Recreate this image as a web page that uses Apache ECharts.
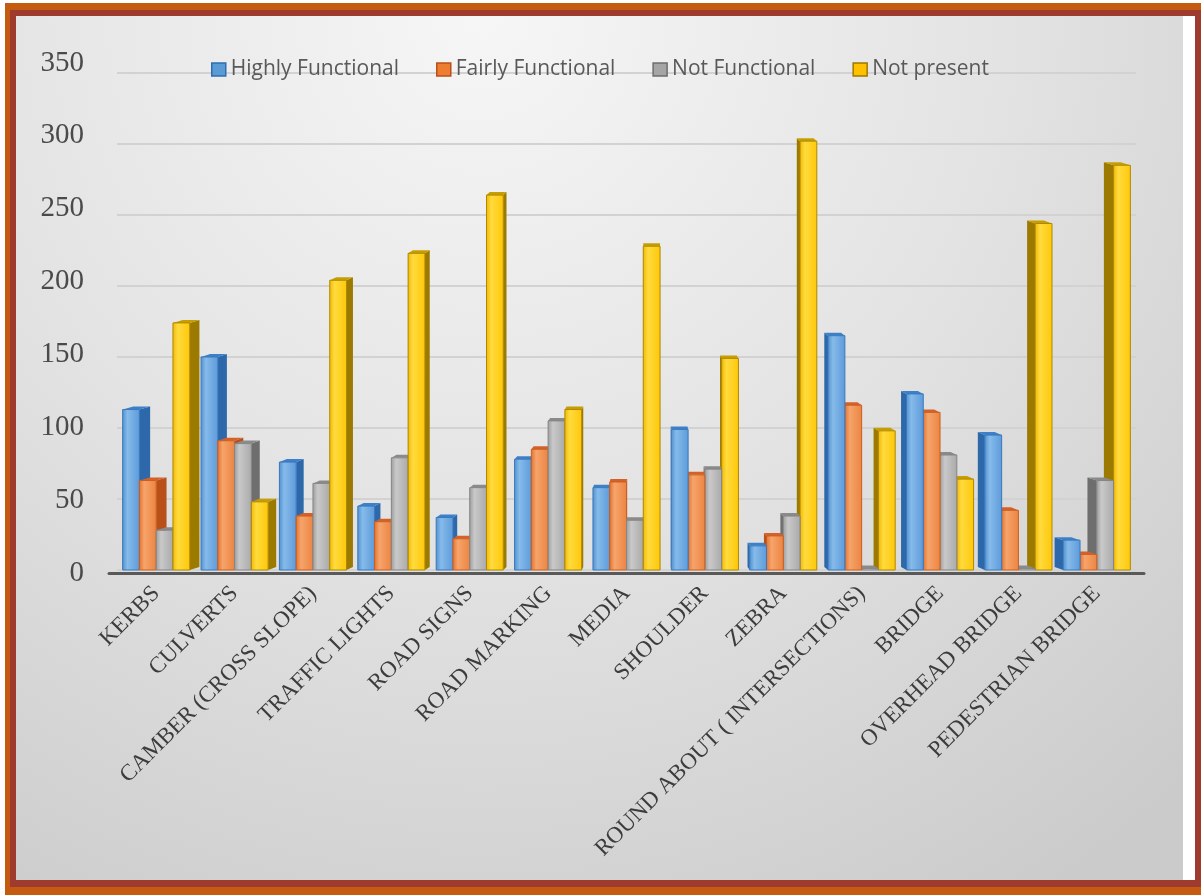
<!DOCTYPE html>
<html>
<head>
<meta charset="utf-8">
<script src="https://cdn.jsdelivr.net/npm/echarts@6/dist/echarts.min.js"></script>
<style>
html,body{margin:0;padding:0;background:#ffffff;}
#chart{width:1201px;height:895px;}
</style>
</head>
<body>
<div id="chart"></div>
<script>
const categories = ['KERBS','CULVERTS','CAMBER (CROSS SLOPE)','TRAFFIC LIGHTS','ROAD SIGNS','ROAD MARKING','MEDIA','SHOULDER','ZEBRA','ROUND ABOUT ( INTERSECTIONS)','BRIDGE','OVERHEAD BRIDGE','PEDESTRIAN BRIDGE'];
const seriesNames = ['Highly Functional','Fairly Functional','Not Functional','Not present'];
const highlyFunctional = [113,150,76,45,37,78,58,99,17,165,124,95,21];
const fairlyFunctional = [63,91,38,34,22,85,62,67,24,116,111,42,11];
const notFunctional    = [28,89,61,79,58,105,35,71,38,1,81,1,63];
const notPresent       = [174,48,204,223,264,113,228,149,302,98,64,244,285];
const yTicks = [0,50,100,150,200,250,300,350];

const palettes = [
  {front:['#4F8FD0','#86BBEA','#5C9ADA'], side:'#2D68AA', top:'#3B80C8', stroke:'#3A78BA', legend:'#5B9BD5', legendBorder:'#2E6DB0'},
  {front:['#E2702A','#F6A46C','#EC8440'], side:'#B9501A', top:'#D56128', stroke:'#C95E20', legend:'#ED7D31', legendBorder:'#B9501A'},
  {front:['#9C9C9C','#C9C9C9','#A9A9A9'], side:'#6E6E6E', top:'#8A8A8A', stroke:'#858585', legend:'#A5A5A5', legendBorder:'#6E6E6E'},
  {front:['#F2B600','#FFDB3E','#FFC707'], side:'#9C7A00', top:'#C79E00', stroke:'#AE8800', legend:'#FFC000', legendBorder:'#9C7A00'}
];
const allValues = [highlyFunctional, fairlyFunctional, notFunctional, notPresent];

const VX = 651, K = 0.0206, DY = -3;

function makeRender(si) {
  const p = palettes[si];
  return function (params, api) {
    const ci = api.value(0);
    const v = api.value(1);
    const base = api.coord([ci, 0]);
    const topPt = api.coord([ci, v]);
    const band = api.size([1, 0])[0];
    const fw = band * 0.214;
    const groupW = fw * 4;
    const x0 = base[0] - groupW / 2 + si * fw;
    const x1 = x0 + fw;
    const yb = base[1];
    const yt = topPt[1];
    const xc = (x0 + x1) / 2;
    const dx = K * (VX - xc);
    const z2 = -Math.abs(xc - VX);
    const edge = dx >= 0 ? x1 : x0;
    return {type: 'group', children: [
      {
        type: 'polygon',
        shape: {points: [[edge, yt], [edge + dx, yt + DY], [edge + dx, yb + DY], [edge, yb]]},
        style: {fill: p.side},
        z2: z2
      },
      {
        type: 'polygon',
        shape: {points: [[x0, yt], [x0 + dx, yt + DY], [x1 + dx, yt + DY], [x1, yt]]},
        style: {fill: p.top},
        z2: z2
      },
      {
        type: 'rect',
        shape: {x: x0, y: yt, width: fw, height: yb - yt},
        style: {
          fill: new echarts.graphic.LinearGradient(0, 0, 1, 0, [
            {offset: 0, color: p.front[0]},
            {offset: 0.3, color: p.front[1]},
            {offset: 1, color: p.front[2]}
          ]),
          stroke: p.stroke,
          lineWidth: 1
        },
        z2: z2 + 0.5
      }
    ]};
  };
}

const series = allValues.map((vals, si) => ({
  name: seriesNames[si],
  type: 'custom',
  xAxisIndex: 0,
  yAxisIndex: 0,
  renderItem: makeRender(si),
  itemStyle: {color: palettes[si].legend},
  encode: {x: 0, y: 1},
  data: vals.map((v, i) => [i, v])
}));

const chart = echarts.init(document.getElementById('chart'), null, {renderer: 'canvas'});
chart.setOption({
  animation: false,
  backgroundColor: '#ffffff',
  graphic: [
    {type: 'rect', z: -10, shape: {x: 5, y: 3, width: 1196, height: 892}, style: {fill: '#C55A11'}},
    {type: 'rect', z: -10, shape: {x: 10, y: 10, width: 1191, height: 877}, style: {fill: '#9E3A2E'}},
    {type: 'rect', z: -10, shape: {x: 16, y: 16, width: 1179, height: 864}, style: {fill: '#ffffff'}},
    {type: 'rect', z: -10, shape: {x: 16, y: 16, width: 1167, height: 864},
      style: {fill: new echarts.graphic.RadialGradient(0.4, 0.0, 1.2, [
        {offset: 0, color: '#f6f6f6'},
        {offset: 0.5, color: '#e3e3e3'},
        {offset: 1, color: '#cbcbcb'}
      ])}}
  ],
  legend: {
    left: 206,
    top: 54,
    icon: 'rect',
    itemWidth: 14,
    itemHeight: 13,
    itemGap: 37,
    textStyle: {fontFamily: 'Open Sans', fontSize: 21, color: '#595959'},
    data: seriesNames.map((n, i) => ({name: n, itemStyle: {color: palettes[i].legend, borderColor: palettes[i].legendBorder, borderWidth: 1.5}}))
  },
  grid: [
    {left: 117, right: 65, top: 73, bottom: 325, containLabel: false},
    {left: 109, right: 57, top: 63, bottom: 322, containLabel: false}
  ],
  xAxis: [
    {
      type: 'category', gridIndex: 0, data: categories,
      axisLine: {show: false}, axisTick: {show: false},
      axisLabel: {rotate: 45, interval: 0, margin: 20, fontFamily: 'Liberation Serif', fontSize: 23, color: '#3c3c3c'}
    },
    {
      type: 'value', gridIndex: 1, min: 0, max: 1,
      axisLine: {show: true, onZero: false, lineStyle: {color: '#595959', width: 3}},
      axisTick: {show: false}, axisLabel: {show: false}, splitLine: {show: false}
    }
  ],
  yAxis: [
    {
      type: 'value', gridIndex: 0, min: 0, max: 350, interval: 50,
      axisLine: {show: false}, axisTick: {show: false}, axisLabel: {show: false},
      splitLine: {show: true, lineStyle: {color: '#d2d2d2', width: 2}}
    },
    {
      type: 'value', gridIndex: 1, min: yTicks[0], max: yTicks[yTicks.length - 1], interval: 50,
      axisLine: {show: false}, axisTick: {show: false}, splitLine: {show: false},
      axisLabel: {margin: 25, fontFamily: 'Liberation Serif', fontSize: 29, color: '#4a4a4a'}
    }
  ],
  series: series
});
</script>
</body>
</html>
